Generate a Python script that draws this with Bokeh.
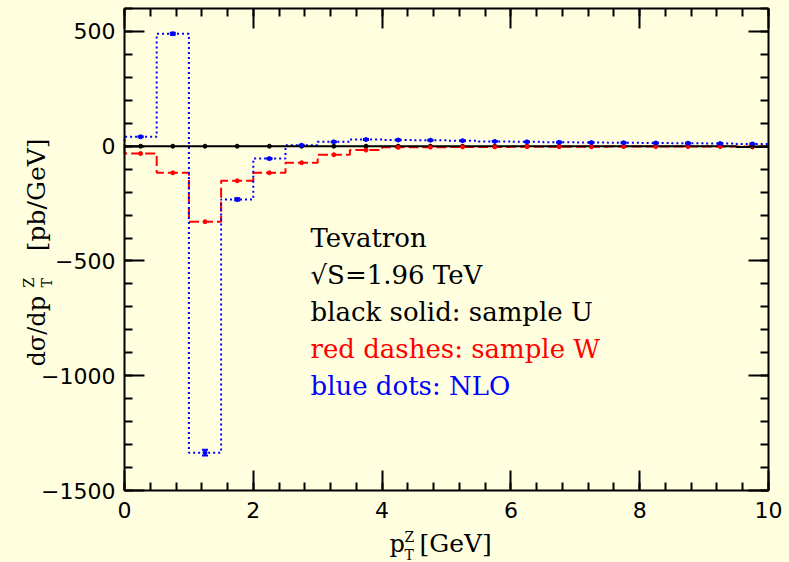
import math
from bokeh.plotting import figure
from bokeh.models import (Range1d, SingleIntervalTicker, LinearAxis, Label,
                          CustomJSTickFormatter, ColumnDataSource, Whisker, TeeHead)
from bokeh.embed import file_html
from bokeh.resources import INLINE

# ---------------- data ----------------
bin_edges = [0.0, 0.5, 1.0, 1.5, 2.0, 2.5, 3.0, 3.5, 4.0, 4.5, 5.0,
             5.5, 6.0, 6.5, 7.0, 7.5, 8.0, 8.5, 9.0, 9.5, 10.0]
sample_U = [0, 0, 0, 0, 0, 0, 0, 0, 0, 0,
            0, 0, 0, 0, 0, 0, 0, 0, 0, -3]
sample_W = [-32, -116, -329, -151, -116, -72, -37, -17, -5, -4,
            -3, -3, -2, -2, -2, -1, -1, -1, -1, -1]
nlo = [41, 490, -1335, -232, -54, 4, 19, 29, 27, 26,
       24, 21, 19, 17, 16, 15, 14, 13, 12, 10]
nlo_err = [2, 4, 12, 5, 3, 2, 2, 2, 2, 2,
           2, 2, 2, 2, 2, 2, 2, 2, 2, 2]
x_tick_interval = 2
y_tick_interval = 500

BG = "#FFFFE0"
W, H = 789, 562
X0, X1 = 0, 10          # axis extent
Y0, Y1 = -1500, 600
FL, FT, FR, FB = 124, 8, 768, 490   # plot box in pixels

# data range covering the whole canvas, so texts outside the box are not clipped
sx = (X1 - X0) / (FR - FL)
sy = (Y1 - Y0) / (FB - FT)
XS, XE = X0 - FL * sx, X1 + (W - FR) * sx
YE, YS = Y1 + FT * sy, Y0 - (H - FB) * sy


def px2x(px):
    return XS + px * sx


def py2y(py):
    return YE - py * sy


p = figure(frame_width=W, frame_height=H,
           x_range=Range1d(XS, XE), y_range=Range1d(YS, YE),
           output_backend="svg", toolbar_location=None,
           min_border=0, background_fill_color=BG, border_fill_color=BG)
p.xgrid.visible = False
p.ygrid.visible = False
p.outline_line_color = None

xt = SingleIntervalTicker(interval=x_tick_interval, num_minor_ticks=5)
yt = SingleIntervalTicker(interval=y_tick_interval, num_minor_ticks=5)
minus_fmt = CustomJSTickFormatter(code="return (tick < 0 ? '\u2212' : '') + Math.abs(tick).toFixed(0);")
blank_fmt = CustomJSTickFormatter(code="return '';")

bottom = p.below[0]
left = p.left[0]
bottom.ticker = xt
left.ticker = yt
left.formatter = minus_fmt
bottom.fixed_location = Y0
left.fixed_location = X0

top = LinearAxis(ticker=xt, fixed_location=Y1, formatter=blank_fmt)
right = LinearAxis(ticker=yt, fixed_location=X1, formatter=blank_fmt)
p.add_layout(top, "above")
p.add_layout(right, "right")

for ax in [bottom, top]:
    ax.bounds = (X0, X1)
for ax in [left, right]:
    ax.bounds = (Y0, Y1)

for ax in [bottom, left, top, right]:
    ax.major_tick_in = 20
    ax.major_tick_out = 0
    ax.minor_tick_in = 8
    ax.minor_tick_out = 0
    ax.axis_line_width = 2
    ax.major_tick_line_width = 2
    ax.minor_tick_line_width = 2
    ax.axis_line_color = "black"
    ax.major_tick_line_color = "black"
    ax.minor_tick_line_color = "black"
    ax.major_label_text_font = "DejaVu Sans"
    ax.major_label_text_font_size = "22px"
    ax.major_label_text_color = "black"
    ax.axis_label = None

for ax in [top, right]:
    ax.major_label_text_color = None
    ax.major_label_standoff = 0

bottom.major_label_standoff = 11
left.major_label_standoff = 9

# ---------------- histograms ----------------
step_x = [bin_edges[0]] + bin_edges
centers = [(a + b) / 2 for a, b in zip(bin_edges[:-1], bin_edges[1:])]

p.step(step_x, [0] + sample_W + [sample_W[-1]], mode="after",
       line_color="red", line_width=2, line_dash="10 4")
p.step(step_x, [0] + nlo + [nlo[-1]], mode="after",
       line_color="blue", line_width=2, line_dash="2 3")
p.step(step_x, [0] + sample_U + [sample_U[-1]], mode="after",
       line_color="black", line_width=2)

p.scatter(centers, sample_U, size=4, color="black")
p.scatter(centers, sample_W, size=4, color="red")
p.scatter(centers, nlo, size=4, color="blue")

err_src = ColumnDataSource(dict(
    x=centers,
    upper=[v + e for v, e in zip(nlo, nlo_err)],
    lower=[v - e for v, e in zip(nlo, nlo_err)]))
p.add_layout(Whisker(base="x", upper="upper", lower="lower", source=err_src,
                     dimension="height", line_color="blue", line_width=2,
                     upper_head=TeeHead(size=6, line_color="blue", line_width=2),
                     lower_head=TeeHead(size=6, line_color="blue", line_width=2)))

# ---------------- texts ----------------
TF = "DejaVu Serif"
K = 0.37   # correction: baseline of a Label sits this fraction of the size low


def label(px, py, text, size, color="black", align="left", rotated=False):
    if rotated:
        px = px - K * size
    else:
        py = py - K * size
    p.add_layout(Label(x=px2x(px), y=py2y(py), text=text, text_font=TF,
                       text_font_size=f"{size}px", text_color=color,
                       text_baseline="alphabetic", text_align=align,
                       angle=math.pi / 2 if rotated else 0))


lines = [("Tevatron", "black"), ("\u221aS=1.96 TeV", "black"),
         ("black solid: sample U", "black"), ("red dashes: sample W", "red"),
         ("blue dots: NLO", "blue")]
for i, (t, c) in enumerate(lines):
    label(310, 247 + 37 * i, t, 26, c)

# x axis label  p_T^Z [GeV]
label(389, 552, "p", 24)
label(404, 560, "T", 14)
label(404, 542, "Z", 14)
label(419, 552, "[GeV]", 25)

# y axis label  dσ/dp_T^Z [pb/GeV]  (rotated)
label(45, 366, "d\u03c3/dp", 24, rotated=True)
label(52, 287, "T", 14, rotated=True)
label(34, 287, "Z", 14, rotated=True)
label(45, 138, "[pb/GeV]", 25, align="right", rotated=True)

html = file_html(p, INLINE)
html = html.replace("<head>", "<head><style>html,body{margin:0;padding:0;background:#FFFFE0;overflow:hidden}</style>", 1)
open("out.html", "w").write(html)
